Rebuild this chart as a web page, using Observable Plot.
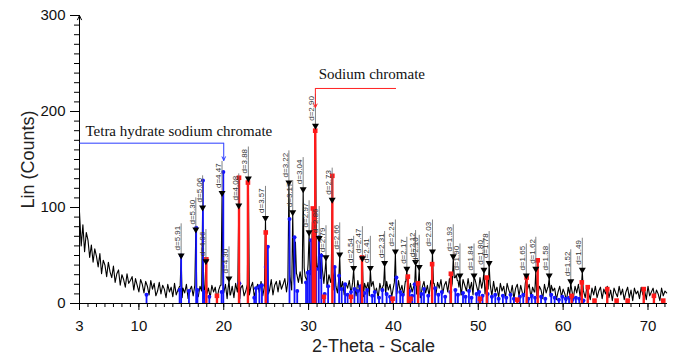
<!DOCTYPE html>
<html><head><meta charset="utf-8">
<script src="https://cdn.jsdelivr.net/npm/d3@7"></script>
<script src="https://cdn.jsdelivr.net/npm/@observablehq/plot@0.6"></script>
<style>body{margin:0;background:#fff;} #chart svg{display:block;background:#fff;}</style>
</head><body><div id="chart"></div>
<script>
// ---- measured scan (2-theta from 3.0 in 0.2 steps) ----
const scanStart = 3.0;
const scanStep = 0.2;
const scanCounts = [
  95, 60, 82, 54, 74, 66, 48, 61, 43, 57,
  49, 38, 52, 31, 45, 40, 28, 43, 33, 27,
  39, 22, 31, 35, 19, 30, 25, 17, 31, 21,
  24, 28, 14, 26, 19, 12, 25, 20, 11, 23,
  18, 9, 24, 15, 21, 8, 13, 22, 10, 19,
  15, 6, 20, 12, 17, 7, 21, 9, 14, 18,
  6, 16, 11, 20, 5, 14, 18, 8, 19, 10,
  7, 18, 13, 5, 20, 10, 16, 6, 19, 12,
  17, 4, 14, 19, 7, 11, 20, 5, 15, 9,
  18, 6, 21, 12, 5, 16, 19, 8, 13, 20,
  9, 17, 22, 7, 15, 20, 11, 23, 8, 18,
  21, 10, 14, 25, 9, 19, 23, 12, 24, 15,
  20, 26, 12, 24, 29, 14, 27, 19, 31, 22,
  33, 21, 37, 28, 24, 41, 30, 44, 27, 40,
  35, 42, 26, 36, 21, 33, 17, 30, 22, 14,
  27, 18, 11, 25, 14, 23, 9, 21, 16, 24,
  10, 22, 17, 8, 24, 13, 19, 7, 21, 15,
  22, 8, 18, 23, 11, 16, 6, 21, 13, 19,
  9, 23, 14, 20, 7, 17, 22, 10, 24, 12,
  19, 8, 23, 15, 9, 21, 12, 18, 24, 10,
  20, 6, 17, 23, 11, 19, 8, 24, 14, 21,
  9, 22, 16, 25, 10, 19, 23, 12, 26, 15,
  21, 27, 11, 24, 17, 9, 25, 19, 13, 26,
  14, 22, 9, 25, 18, 11, 27, 16, 23, 10,
  24, 15, 20, 8, 23, 12, 17, 6, 21, 13,
  18, 6, 21, 14, 9, 19, 5, 16, 20, 8,
  19, 11, 7, 21, 15, 20, 6, 17, 12, 21,
  8, 18, 14, 5, 20, 11, 17, 7, 19, 13,
  16, 4, 12, 18, 7, 15, 10, 3, 17, 9,
  14, 5, 18, 11, 20, 7, 16, 13, 6, 17,
  11, 4, 16, 9, 18, 6, 13, 17, 5, 15,
  10, 18, 6, 14, 3, 16, 11, 7, 18, 9,
  15, 4, 12, 17, 6, 14, 3, 16, 10, 13,
  5, 17, 9, 14, 4, 18, 8, 12, 16, 6,
  14, 10, 3, 16, 8, 13, 11
];

// ---- identified peaks (d-spacing labels) ----
const peakTheta  = [14.98, 16.71, 17.51, 17.90, 19.80, 20.62, 21.77, 22.90, 24.92, 27.68, 28.13, 29.36, 30.06, 30.81, 31.25, 32.05, 32.78, 33.67, 35.31, 36.34, 37.28, 38.96, 40.23, 41.58, 42.61, 43.04, 44.60, 47.05, 47.84, 49.50, 50.67, 51.28, 55.66, 56.78, 58.36, 60.90, 62.26];
const peakCounts = [48, 75, 98, 42, 113, 24, 100, 128, 87, 124, 93, 117, 72, 183, 66, 46, 106, 49, 35, 45, 35, 40, 52, 34, 41, 36, 52, 47, 27, 27, 33, 40, 27, 34, 27, 21, 33];
const peakLabels = ["d=5.91", "d=5.30", "d=5.06", "d=4.96", "d=4.47", "d=4.30", "d=4.08", "d=3.88", "d=3.57", "d=3.22", "d=3.17", "d=3.04", "d=2.97", "d=2.90", "d=2.86", "d=2.79", "d=2.73", "d=2.66", "d=2.54", "d=2.47", "d=2.41", "d=2.31", "d=2.24", "d=2.17", "d=2.12", "d=2.10", "d=2.03", "d=1.93", "d=1.90", "d=1.84", "d=1.80", "d=1.78", "d=1.65", "d=1.62", "d=1.58", "d=1.52", "d=1.49"];

// unlabeled spikes of the scan
const extraTheta  = [25.15, 28.45, 30.45, 31.50, 33.10, 47.40];
const extraCounts = [58, 64, 85, 52, 36, 30];

// ---- reference pattern: tetra hydrate sodium chromate (blue) ----
const blueTheta = [10.9, 14.8, 14.98, 15.9, 16.75, 16.9, 17.55, 17.7, 18.3, 19.75, 19.95, 21.84, 23.6, 23.8, 24.2, 24.5, 24.95, 25.2, 27.75, 28.34, 28.66, 29.7, 29.9, 30.1, 30.3, 30.9, 31.2, 31.5, 31.9, 32.3, 33.07, 33.6, 33.9, 34.3, 34.6, 35.0, 35.4, 35.8, 36.1, 36.6, 36.9, 37.5, 37.8, 38.3, 38.7, 39.2, 39.6, 40.35, 40.8, 41.1, 41.9, 42.2, 42.5, 43.3, 43.6, 44.1, 44.9, 45.3, 45.7, 46.1, 46.7, 47.3, 47.6, 48.2, 48.5, 48.9, 49.2, 49.8, 50.1, 50.5, 51.1, 51.6, 52.0, 52.4, 52.9, 53.3, 53.8, 54.2, 54.9, 55.3, 55.9, 56.3, 56.7, 57.4, 57.9, 58.6, 59.0, 59.5, 59.9, 60.3, 60.7, 61.1, 61.5, 61.9, 62.4];
const blueCounts = [9, 14, 50, 13, 79, 14, 128, 12, 7, 12, 137, 21, 6, 16, 18, 19, 38, 59, 88, 69, 13, 22, 32, 33, 66, 36, 69, 50, 10, 18, 38, 29, 15, 20, 9, 12, 15, 13, 18, 11, 14, 8, 12, 6, 14, 10, 7, 27, 12, 9, 13, 8, 20, 10, 15, 8, 16, 9, 12, 7, 12, 14, 9, 11, 7, 13, 6, 10, 12, 8, 10, 7, 9, 5, 8, 6, 9, 5, 7, 9, 5, 8, 6, 7, 5, 9, 6, 4, 7, 5, 6, 4, 6, 5, 3];

// ---- reference pattern: sodium chromate (red) ----
const redTheta  = [17.95, 19.2, 21.8, 22.85, 24.95, 30.5, 30.78, 31.8, 32.8, 35.0, 36.3, 39.9, 41.7, 42.0, 42.9, 44.56, 46.77, 50.2, 51.0, 54.6, 55.7, 57.0, 61.0, 62.2, 62.9, 63.7, 65.2, 66.3, 67.6, 69.5, 70.7, 71.8];
const redCounts = [46, 8, 131, 126, 74, 99, 180, 7, 133, 7, 48, 5, 28, 5, 21, 41, 31, 5, 27, 4, 27, 45, 8, 22, 17, 3, 15, 3, 3, 15, 8, 3];

// ---- axes & callouts ----
const xDomain = [3, 72.3];
const yDomain = [0, 300];
const xTickValues = [3, 10, 20, 30, 40, 50, 60, 70];
const yTickValues = [0, 100, 200, 300];
const calloutText   = ["Sodium chromate", "Tetra hydrate sodium chromate"];
const calloutColor  = ["#ff2020", "#2a3cff"];
const calloutTextX  = [31.2, 3.7];
const calloutTextY  = [239, 179];
const calloutFromX  = [40.3, 3.0];
const calloutToX    = [30.8, 20.0];
const calloutLevel  = [224, 167];
const calloutTip    = [204, 149];

// ---- build tables ----
const scan = scanCounts.map((c, i) => ({theta: +(scanStart + i * scanStep).toFixed(2), counts: c}));
const peaks = peakTheta.map((t, i) => ({theta: t, counts: peakCounts[i], label: peakLabels[i]}));
const spikes = peaks.concat(extraTheta.map((t, i) => ({theta: t, counts: extraCounts[i]})));
const baseAt = t => scanCounts[Math.min(scanCounts.length - 1, Math.round((t - scanStart) / scanStep))];
const trace = scan
  .filter(p => !spikes.some(s => Math.abs(s.theta - p.theta) < 0.12))
  .concat(spikes.flatMap(s => [
    {theta: s.theta - 0.12, counts: baseAt(s.theta - 0.12)},
    {theta: s.theta, counts: s.counts},
    {theta: s.theta + 0.12, counts: baseAt(s.theta + 0.12)}
  ]))
  .sort((a, b) => a.theta - b.theta);
const blue = blueTheta.map((t, i) => ({theta: t, counts: blueCounts[i]}));
const red = redTheta.map((t, i) => ({theta: t, counts: redCounts[i]}));
const callouts = calloutText.map((t, i) => ({text: t, color: calloutColor[i], tx: calloutTextX[i], ty: calloutTextY[i], x1: calloutFromX[i], x2: calloutToX[i], level: calloutLevel[i], tip: calloutTip[i]}));
const yAxisArrow = [{x: xDomain[0], y1: yDomain[0], y2: yDomain[1]}];

const plot = Plot.plot({
  width: 681,
  height: 363,
  marginLeft: 79,
  marginRight: 14,
  marginTop: 15,
  marginBottom: 60,
  style: {fontFamily: "'Liberation Sans', Arial, sans-serif", background: "#fff"},
  x: {domain: xDomain, label: null},
  y: {domain: yDomain, label: null},
  marks: [
    Plot.axisX({ticks: d3.range(3, 73), tickSize: 4, tickFormat: () => "", label: null}),
    Plot.axisX({ticks: xTickValues, tickSize: 7, tickPadding: 10, fontSize: 15, label: null, fill: "#111"}),
    Plot.axisY({ticks: d3.range(0, 301, 10), tickSize: 5, tickFormat: () => "", label: null}),
    Plot.axisY({ticks: yTickValues, tickSize: 9, tickPadding: 5, fontSize: 15, label: null, fill: "#111"}),
    Plot.ruleY([0], {stroke: "#000", strokeWidth: 1}),
    Plot.arrow(yAxisArrow, {x1: "x", x2: "x", y1: "y1", y2: "y2", stroke: "#000", strokeWidth: 1, headLength: 7, headAngle: 50}),
    Plot.line(trace, {x: "theta", y: "counts", stroke: "#000", strokeWidth: 1.1}),
    Plot.ruleX(blue, {x: "theta", y1: 0, y2: "counts", stroke: "#1414ff", strokeWidth: 1.8}),
    Plot.dot(blue, {x: "theta", y: "counts", r: 2, fill: "#1414ff"}),
    Plot.ruleX(red, {x: "theta", y1: 0, y2: "counts", stroke: "#ff1a1a", strokeWidth: 2.4}),
    Plot.dot(red, {x: "theta", y: "counts", symbol: "square", r: 2.6, fill: "#ff1a1a"}),
    Plot.ruleX(peaks, {x: "theta", y1: "counts", y2: d => d.counts + 35, stroke: "#666", strokeWidth: 0.8}),
    Plot.dot(peaks, {x: "theta", y: "counts", symbol: "triangle", rotate: 180, r: 2.6, fill: "#000", dy: -2}),
    Plot.text(peaks, {x: "theta", y: "counts", text: "label", rotate: -90, textAnchor: "start", lineAnchor: "bottom", dx: -1, dy: -7, fontSize: 8, fill: "#333"}),
    Plot.link(callouts, {x1: "x1", x2: "x2", y1: "level", y2: "level", stroke: "color", strokeWidth: 1}),
    Plot.arrow(callouts, {x1: "x2", x2: "x2", y1: "level", y2: "tip", stroke: "color", strokeWidth: 1, headLength: 6, headAngle: 50}),
    Plot.text(callouts, {x: "tx", y: "ty", text: "text", textAnchor: "start", lineAnchor: "middle", fontSize: 15, fontFamily: "'Liberation Serif', 'Times New Roman', serif", fill: "#111"}),
    Plot.text(["Lin (Counts)"], {text: d => d, frameAnchor: "left", rotate: -90, dx: -51, fontSize: 18, textAnchor: "middle", lineAnchor: "middle", fill: "#222"}),
    Plot.text(["2-Theta - Scale"], {text: d => d, frameAnchor: "bottom", dy: 43, fontSize: 18, lineAnchor: "middle", fill: "#222"})
  ]
});
document.getElementById("chart").appendChild(plot);
</script>
</body></html>
